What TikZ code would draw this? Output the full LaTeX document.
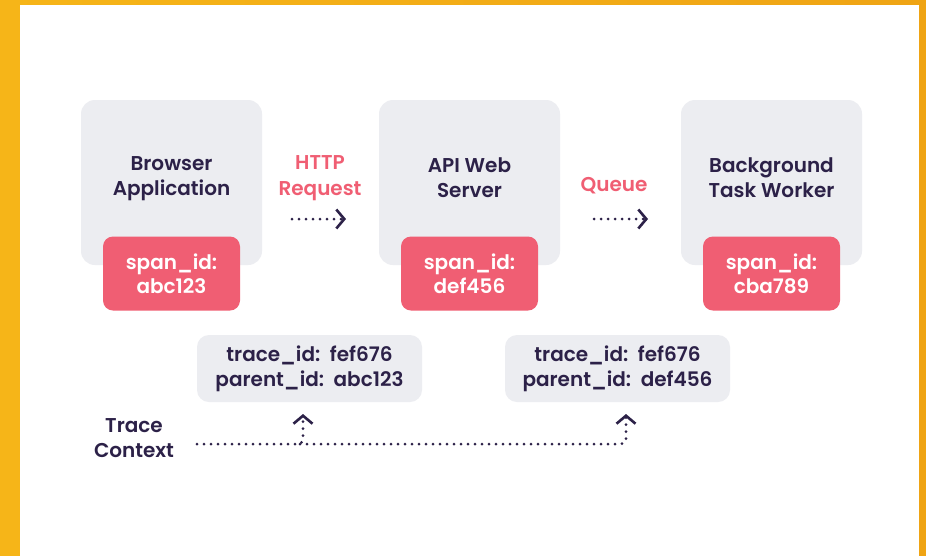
\documentclass[tikz,border=0pt]{standalone}
\usepackage{fontspec}
\setmainfont{Poppins}[BoldFont={Poppins SemiBold}]
\usetikzlibrary{arrows.meta}

\definecolor{frameleft}{HTML}{F6B518}
\definecolor{frameright}{HTML}{EFA414}
\definecolor{boxgray}{HTML}{ECEDF1}
\definecolor{spanpink}{HTML}{F05E73}
\definecolor{inkdark}{HTML}{2C2148}

\tikzset{
  appbox/.style={fill=boxgray, rounded corners=14pt, minimum width=181pt, minimum height=165pt, inner sep=0pt},
  apptext/.style={text=inkdark, align=center, font=\fontsize{20}{25}\selectfont\bfseries},
  spanbox/.style={fill=spanpink, rounded corners=10pt, minimum width=137pt, minimum height=74pt, inner sep=0pt,
    text=white, align=center, font=\fontsize{20}{24}\selectfont\bfseries},
  ctxbox/.style={fill=boxgray, rounded corners=12pt, minimum width=225pt, minimum height=67pt, inner sep=0pt,
    text=inkdark, align=center, font=\fontsize{20}{25}\selectfont\bfseries},
  hoplabel/.style={text=spanpink, align=center, font=\fontsize{20}{26}\selectfont\bfseries},
  flow/.style={draw=inkdark, line width=3pt, line cap=round, dash pattern=on 0pt off 7pt,
    -{Straight Barb[length=8pt, width=19pt, line width=2.6pt]}},
}

\begin{document}
\begin{tikzpicture}[x=1pt, y=-1pt]

  % frame
  \useasboundingbox (0,0) rectangle (926,555);
  \fill[left color=frameleft, right color=frameright] (0,0) rectangle (926,560);
  \fill[white] (20,5) rectangle (919,560);

  % services
  \node[appbox] (browser) at (171.5,182.5) {};
  \node[appbox] (api)     at (469.5,182.5) {};
  \node[appbox] (worker)  at (771.5,182.5) {};

  \node[apptext] (browser text) at (171.5,179) {Browser\\Application};
  \node[apptext] (api text)     at (469.5,178) {API Web\\Server};
  \node[apptext] (worker text)  at (771.5,178) {Background\\Task Worker};

  \begin{scope}[every node/.style={spanbox}]
    \node (span1) at (171.5,273.5) {span\_{}id:\\abc123};
    \node (span2) at (469.5,273.5) {span\_{}id:\\def456};
    \node (span3) at (771.5,273.5) {span\_{}id:\\cba789};
  \end{scope}

  % hops between services
  \node[hoplabel] (http)  at (320,178.5) {HTTP\\Request};
  \node[hoplabel] (queue) at (614,186) {Queue};

  \coordinate (http from)  at (292,219);
  \coordinate (http to)    at (346,219);
  \coordinate (queue from) at (594,219);
  \coordinate (queue to)   at (648,219);

  \path[flow] (http from) -- (http to);
  \path[flow] (queue from) -- (queue to);

  % propagated context
  \begin{scope}[every node/.style={ctxbox}]
    \node (ctx1) at (309.5,368.5) {trace\_{}id:\ \ fef676\\parent\_{}id:\ \ abc123};
    \node (ctx2) at (617.5,368.5) {trace\_{}id:\ \ fef676\\parent\_{}id:\ \ def456};
  \end{scope}

  \node[apptext] (trace) at (134,438) {Trace\\Context};

  \coordinate (trace out) at (197,444);
  \coordinate (fork)      at (300,444);
  \coordinate (ctx1 in)   at (303,414);
  \coordinate (ctx2 in)   at (626,414);

  \path[flow, rounded corners=5pt] (trace out) -| (ctx1 in);
  \path[flow, rounded corners=5pt] (fork) -| (ctx2 in);

\end{tikzpicture}
\end{document}
